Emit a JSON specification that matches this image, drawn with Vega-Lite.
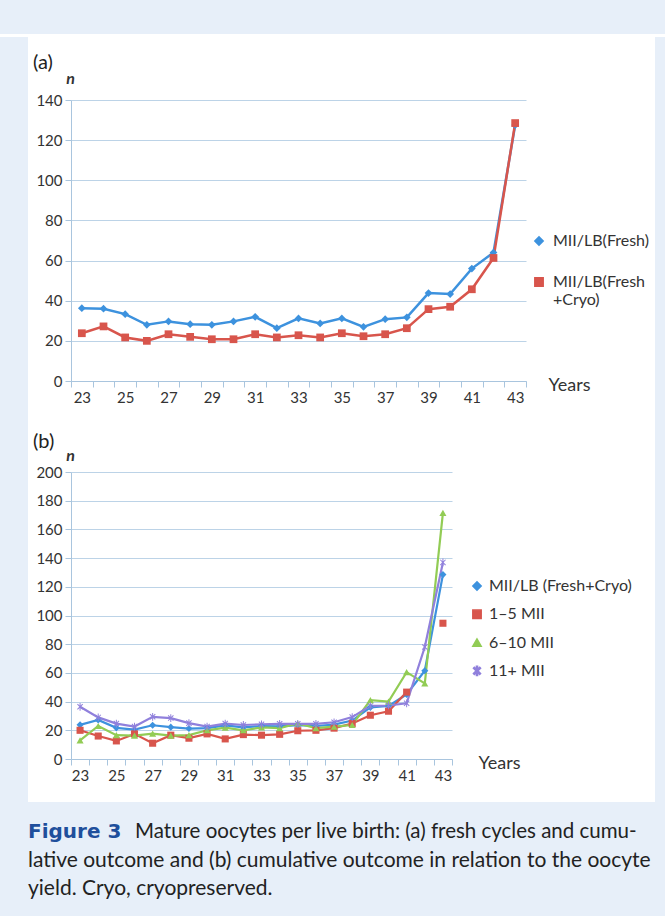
{
  "$schema": "https://vega.github.io/schema/vega-lite/v6.json",
  "padding": 0,
  "background": "white",
  "spacing": 0,
  "title": {
    "text": "Mature oocytes per live birth: (a) fresh cycles and cumu-",
    "orient": "bottom", "anchor": "start", "frame": "group", "offset": 0, "dx": 135, "dy": -97, "limit": 800, "zindex": 1,
    "font": "Lato", "fontSize": 20.5, "fontWeight": "normal", "color": "#222"
  },
  "config": {
    "view": {"stroke": null},
    "font": "Lato",
    "axis": {
      "labelFont": "Lato", "titleFont": "Lato",
      "domainColor": "#a9c5de", "tickColor": "#a9c5de", "gridColor": "#bcd3e7",
      "tickSize": 6, "labelFontSize": 15, "labelColor": "#333", "labelPadding": 3, "titleColor": "#333"
    },
    "legend": {"labelFont": "Lato", "labelFontSize": 16, "labelColor": "#333"},
    "title": {"font": "Lato"}
  },
  "datasets": {
    "blank": [{}],
    "a": [
      {"series": "MII/LB(Fresh)", "age": 23, "n": 36.3}, {"series": "MII/LB(Fresh)", "age": 24, "n": 36}, {"series": "MII/LB(Fresh)", "age": 25, "n": 33.3},
      {"series": "MII/LB(Fresh)", "age": 26, "n": 28}, {"series": "MII/LB(Fresh)", "age": 27, "n": 29.7}, {"series": "MII/LB(Fresh)", "age": 28, "n": 28.3},
      {"series": "MII/LB(Fresh)", "age": 29, "n": 28}, {"series": "MII/LB(Fresh)", "age": 30, "n": 29.7}, {"series": "MII/LB(Fresh)", "age": 31, "n": 32},
      {"series": "MII/LB(Fresh)", "age": 32, "n": 26.3}, {"series": "MII/LB(Fresh)", "age": 33, "n": 31.2}, {"series": "MII/LB(Fresh)", "age": 34, "n": 28.7},
      {"series": "MII/LB(Fresh)", "age": 35, "n": 31.2}, {"series": "MII/LB(Fresh)", "age": 36, "n": 27}, {"series": "MII/LB(Fresh)", "age": 37, "n": 30.8},
      {"series": "MII/LB(Fresh)", "age": 38, "n": 31.7}, {"series": "MII/LB(Fresh)", "age": 39, "n": 43.8}, {"series": "MII/LB(Fresh)", "age": 40, "n": 43.3},
      {"series": "MII/LB(Fresh)", "age": 41, "n": 56}, {"series": "MII/LB(Fresh)", "age": 42, "n": 64}, {"series": "MII/LB(Fresh)", "age": 43, "n": 127.5},
      {"series": "MII/LB(Fresh+Cryo)", "age": 23, "n": 23.8}, {"series": "MII/LB(Fresh+Cryo)", "age": 24, "n": 27.2}, {"series": "MII/LB(Fresh+Cryo)", "age": 25, "n": 21.7},
      {"series": "MII/LB(Fresh+Cryo)", "age": 26, "n": 20}, {"series": "MII/LB(Fresh+Cryo)", "age": 27, "n": 23.3}, {"series": "MII/LB(Fresh+Cryo)", "age": 28, "n": 22},
      {"series": "MII/LB(Fresh+Cryo)", "age": 29, "n": 20.8}, {"series": "MII/LB(Fresh+Cryo)", "age": 30, "n": 20.8}, {"series": "MII/LB(Fresh+Cryo)", "age": 31, "n": 23.3},
      {"series": "MII/LB(Fresh+Cryo)", "age": 32, "n": 21.7}, {"series": "MII/LB(Fresh+Cryo)", "age": 33, "n": 22.8}, {"series": "MII/LB(Fresh+Cryo)", "age": 34, "n": 21.7},
      {"series": "MII/LB(Fresh+Cryo)", "age": 35, "n": 23.8}, {"series": "MII/LB(Fresh+Cryo)", "age": 36, "n": 22.3}, {"series": "MII/LB(Fresh+Cryo)", "age": 37, "n": 23.3},
      {"series": "MII/LB(Fresh+Cryo)", "age": 38, "n": 26.3}, {"series": "MII/LB(Fresh+Cryo)", "age": 39, "n": 35.8}, {"series": "MII/LB(Fresh+Cryo)", "age": 40, "n": 37},
      {"series": "MII/LB(Fresh+Cryo)", "age": 41, "n": 45.7}, {"series": "MII/LB(Fresh+Cryo)", "age": 42, "n": 61.3}, {"series": "MII/LB(Fresh+Cryo)", "age": 43, "n": 128.5}
    ],
    "b": [
      {"series": "MII/LB (Fresh+Cryo)", "age": 23, "n": 23.8}, {"series": "MII/LB (Fresh+Cryo)", "age": 24, "n": 27.2}, {"series": "MII/LB (Fresh+Cryo)", "age": 25, "n": 21.7},
      {"series": "MII/LB (Fresh+Cryo)", "age": 26, "n": 20.5}, {"series": "MII/LB (Fresh+Cryo)", "age": 27, "n": 23.5}, {"series": "MII/LB (Fresh+Cryo)", "age": 28, "n": 22.2},
      {"series": "MII/LB (Fresh+Cryo)", "age": 29, "n": 21.2}, {"series": "MII/LB (Fresh+Cryo)", "age": 30, "n": 21.5}, {"series": "MII/LB (Fresh+Cryo)", "age": 31, "n": 23.4},
      {"series": "MII/LB (Fresh+Cryo)", "age": 32, "n": 22}, {"series": "MII/LB (Fresh+Cryo)", "age": 33, "n": 23}, {"series": "MII/LB (Fresh+Cryo)", "age": 34, "n": 22.8},
      {"series": "MII/LB (Fresh+Cryo)", "age": 35, "n": 23.6}, {"series": "MII/LB (Fresh+Cryo)", "age": 36, "n": 23}, {"series": "MII/LB (Fresh+Cryo)", "age": 37, "n": 24},
      {"series": "MII/LB (Fresh+Cryo)", "age": 38, "n": 26.8}, {"series": "MII/LB (Fresh+Cryo)", "age": 39, "n": 36}, {"series": "MII/LB (Fresh+Cryo)", "age": 40, "n": 37},
      {"series": "MII/LB (Fresh+Cryo)", "age": 41, "n": 45}, {"series": "MII/LB (Fresh+Cryo)", "age": 42, "n": 61.5}, {"series": "MII/LB (Fresh+Cryo)", "age": 43, "n": 128.5},
      {"series": "1–5 MII", "age": 23, "n": 20}, {"series": "1–5 MII", "age": 24, "n": 16}, {"series": "1–5 MII", "age": 25, "n": 12.6},
      {"series": "1–5 MII", "age": 26, "n": 17.5}, {"series": "1–5 MII", "age": 27, "n": 11}, {"series": "1–5 MII", "age": 28, "n": 16.6},
      {"series": "1–5 MII", "age": 29, "n": 14.5}, {"series": "1–5 MII", "age": 30, "n": 17.5}, {"series": "1–5 MII", "age": 31, "n": 14},
      {"series": "1–5 MII", "age": 32, "n": 17}, {"series": "1–5 MII", "age": 33, "n": 16.6}, {"series": "1–5 MII", "age": 34, "n": 17.2},
      {"series": "1–5 MII", "age": 35, "n": 19.7}, {"series": "1–5 MII", "age": 36, "n": 20}, {"series": "1–5 MII", "age": 37, "n": 21.5},
      {"series": "1–5 MII", "age": 38, "n": 24.7}, {"series": "1–5 MII", "age": 39, "n": 30.5}, {"series": "1–5 MII", "age": 40, "n": 33.3},
      {"series": "1–5 MII", "age": 41, "n": 46.6}, {"series": "1–5 MII", "age": 43, "n": 94.6},
      {"series": "6–10 MII", "age": 23, "n": 13}, {"series": "6–10 MII", "age": 24, "n": 23}, {"series": "6–10 MII", "age": 25, "n": 16.6},
      {"series": "6–10 MII", "age": 26, "n": 16.3}, {"series": "6–10 MII", "age": 27, "n": 17.7}, {"series": "6–10 MII", "age": 28, "n": 16.3},
      {"series": "6–10 MII", "age": 29, "n": 16.6}, {"series": "6–10 MII", "age": 30, "n": 20}, {"series": "6–10 MII", "age": 31, "n": 21.8},
      {"series": "6–10 MII", "age": 32, "n": 20}, {"series": "6–10 MII", "age": 33, "n": 22}, {"series": "6–10 MII", "age": 34, "n": 21.5},
      {"series": "6–10 MII", "age": 35, "n": 24.7}, {"series": "6–10 MII", "age": 36, "n": 21.5}, {"series": "6–10 MII", "age": 37, "n": 22.5},
      {"series": "6–10 MII", "age": 38, "n": 23.7}, {"series": "6–10 MII", "age": 39, "n": 41}, {"series": "6–10 MII", "age": 40, "n": 40},
      {"series": "6–10 MII", "age": 41, "n": 60.5}, {"series": "6–10 MII", "age": 42, "n": 52.7}, {"series": "6–10 MII", "age": 43, "n": 171.5},
      {"series": "11+ MII", "age": 23, "n": 36.4}, {"series": "11+ MII", "age": 24, "n": 29}, {"series": "11+ MII", "age": 25, "n": 24.7},
      {"series": "11+ MII", "age": 26, "n": 22.6}, {"series": "11+ MII", "age": 27, "n": 29.4}, {"series": "11+ MII", "age": 28, "n": 28.5},
      {"series": "11+ MII", "age": 29, "n": 25}, {"series": "11+ MII", "age": 30, "n": 22.6}, {"series": "11+ MII", "age": 31, "n": 24.7},
      {"series": "11+ MII", "age": 32, "n": 23.7}, {"series": "11+ MII", "age": 33, "n": 24.2}, {"series": "11+ MII", "age": 34, "n": 24.5},
      {"series": "11+ MII", "age": 35, "n": 24.5}, {"series": "11+ MII", "age": 36, "n": 24.5}, {"series": "11+ MII", "age": 37, "n": 25.6},
      {"series": "11+ MII", "age": 38, "n": 29.2}, {"series": "11+ MII", "age": 39, "n": 37}, {"series": "11+ MII", "age": 40, "n": 37.3},
      {"series": "11+ MII", "age": 41, "n": 38.8}, {"series": "11+ MII", "age": 42, "n": 78}, {"series": "11+ MII", "age": 43, "n": 137}
    ]
  },
  "vconcat": [
    {"width": 665, "height": 34, "view": {"fill": "#e7eff9"}, "data": {"name": "blank"}, "mark": {"type": "text", "text": ""}},
    {
      "spacing": 5,
      "hconcat": [
        {"width": 28, "height": 765, "view": {"fill": "#e7eff9"}, "data": {"name": "blank"}, "mark": {"type": "text", "text": ""}},
        {
          "spacing": 8,
          "resolve": {"scale": {"color": "independent", "shape": "independent"}, "legend": {"color": "independent", "shape": "independent"}},
          "vconcat": [
            {"width": 1, "height": 6, "view": {"fill": "white"}, "data": {"name": "blank"}, "mark": {"type": "text", "text": ""}},
            {
              "width": 455, "height": 281,
              "data": {"name": "a"},
              "title": {"text": "(a)", "anchor": "start", "frame": "group", "dx": -38, "offset": -3, "fontSize": 20, "fontWeight": "normal", "color": "#222"},
              "encoding": {
                "x": {"field": "age", "type": "ordinal", "bandPosition": 0.5,
                  "scale": {"type": "band", "paddingInner": 0, "paddingOuter": 0},
                  "axis": {"title": "Years", "titleX": 477, "titleY": 4, "titleAlign": "left", "titleBaseline": "middle", "titleFontSize": 18, "titleFontWeight": "normal",
                    "labelAngle": 0, "labelExpr": "datum.value % 2 == 1 ? datum.label : ''", "tickBand": "extent", "grid": false}},
                "y": {"field": "n", "type": "quantitative", "scale": {"domain": [0, 140], "nice": false},
                  "axis": {"values": [0, 20, 40, 60, 80, 100, 120, 140], "title": "n", "titleAngle": 0, "titleX": -1, "titleY": -14, "titleAlign": "center", "titleBaseline": "bottom",
                    "titleFontStyle": "italic", "titleFontWeight": "bold", "titleFontSize": 16}},
                "color": {"field": "series", "type": "nominal",
                  "scale": {"domain": ["MII/LB(Fresh)", "MII/LB(Fresh+Cryo)"], "range": ["#3d92de", "#d8554c"]},
                  "legend": {"orient": "none", "legendX": 460, "legendY": 133, "title": null, "rowPadding": 25, "symbolSize": 70, "symbolStrokeWidth": 1.5, "labelOffset": 6,
                    "labelExpr": "datum.label == 'MII/LB(Fresh+Cryo)' ? ['MII/LB(Fresh', '+Cryo)'] : datum.label"}}
              },
              "layer": [
                {"mark": {"type": "line", "strokeWidth": 2.5}},
                {"mark": {"type": "point", "filled": true, "opacity": 1, "size": 60},
                  "encoding": {
                    "shape": {"field": "series", "type": "nominal", "scale": {"domain": ["MII/LB(Fresh)", "MII/LB(Fresh+Cryo)"], "range": ["diamond", "square"]}, "legend": null}
                  }}
              ]
            },
            {"width": 1, "height": 8, "view": {"fill": "white"}, "data": {"name": "blank"}, "mark": {"type": "text", "text": ""}},
            {
              "width": 381, "height": 287,
              "data": {"name": "b"},
              "title": {"text": "(b)", "anchor": "start", "frame": "group", "dx": -38, "offset": -5, "fontSize": 20, "fontWeight": "normal", "color": "#222"},
              "encoding": {
                "x": {"field": "age", "type": "ordinal", "bandPosition": 0.5,
                  "scale": {"type": "band", "paddingInner": 0, "paddingOuter": 0},
                  "axis": {"title": "Years", "titleX": 407, "titleY": 4, "titleAlign": "left", "titleBaseline": "middle", "titleFontSize": 18, "titleFontWeight": "normal",
                    "labelAngle": 0, "labelExpr": "datum.value % 2 == 1 ? datum.label : ''", "tickBand": "extent", "grid": false}},
                "y": {"field": "n", "type": "quantitative", "scale": {"domain": [0, 200], "nice": false},
                  "axis": {"values": [0, 20, 40, 60, 80, 100, 120, 140, 160, 180, 200], "title": "n", "titleAngle": 0, "titleX": -1, "titleY": -9, "titleAlign": "center", "titleBaseline": "bottom",
                    "titleFontStyle": "italic", "titleFontWeight": "bold", "titleFontSize": 16}},
                "color": {"field": "series", "type": "nominal",
                  "scale": {"domain": ["MII/LB (Fresh+Cryo)", "1–5 MII", "6–10 MII", "11+ MII"], "range": ["#3d92de", "#d8554c", "#92cc55", "#9080dc"]},
                  "legend": {"orient": "none", "legendX": 398, "legendY": 106, "title": null, "rowPadding": 12.3, "symbolSize": 70, "symbolStrokeWidth": 1.5, "labelOffset": 4}}
              },
              "layer": [
                {"transform": [{"filter": "datum.series != '1–5 MII' || datum.age < 42"}],
                 "mark": {"type": "line", "strokeWidth": 2.2}},
                {"mark": {"type": "point", "filled": true, "opacity": 1, "size": 50},
                  "encoding": {
                    "shape": {"field": "series", "type": "nominal", "scale": {"domain": ["MII/LB (Fresh+Cryo)", "1–5 MII", "6–10 MII", "11+ MII"], "range": ["diamond", "square", "triangle-up", "M-0.14,-1.1H0.14V1.1H-0.14Z M-0.85,-0.65L-0.65,-0.85L0.85,0.65L0.65,0.85Z M0.65,-0.85L0.85,-0.65L-0.65,0.85L-0.85,0.65Z"]}, "legend": null}
                  }}
              ]
            }
          ]
        },
        {"width": 12, "height": 765, "view": {"fill": "#e7eff9"}, "data": {"name": "blank"}, "mark": {"type": "text", "text": ""}}
      ]
    },
    {
      "width": 665, "height": 117, "view": {"fill": "#e7eff9"}, "data": {"name": "blank"}, "mark": {"type": "text", "text": ""},
      "title": {
        "text": "Figure 3",
        "subtitle": ["lative outcome and (b) cumulative outcome in relation to the oocyte", "yield. Cryo, cryopreserved."],
        "orient": "bottom", "anchor": "start", "frame": "group", "offset": 0, "dx": 28, "dy": -97, "limit": 800,
        "font": "DejaVu Sans", "fontSize": 20, "fontWeight": "bold", "color": "#1f4f9c",
        "subtitleFont": "Lato", "subtitleFontSize": 21, "subtitleColor": "#222", "subtitleLineHeight": 28, "subtitlePadding": 8
      }
    }
  ]
}
